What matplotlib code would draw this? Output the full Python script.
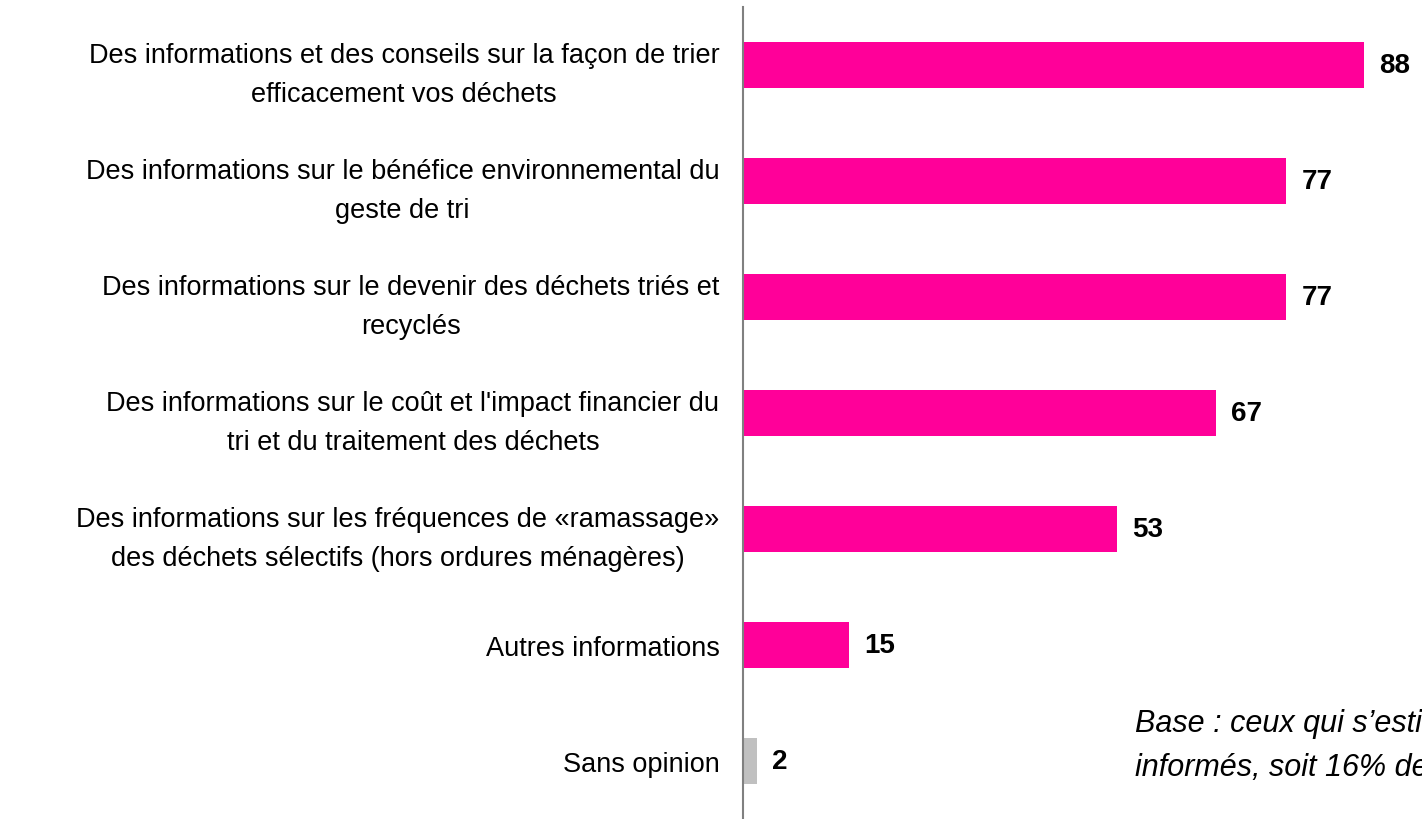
import matplotlib
matplotlib.use("Agg")
import matplotlib.pyplot as plt

plt.rcParams['font.family'] = ['Liberation Sans', 'DejaVu Sans']

# Donnees
categories = [
    "Des informations et des conseils sur la façon de trier\nefficacement vos déchets",
    "Des informations sur le bénéfice environnemental du\ngeste de tri",
    "Des informations sur le devenir des déchets triés et\nrecyclés",
    "Des informations sur le coût et l'impact financier du\ntri et du traitement des déchets",
    "Des informations sur les fréquences de «ramassage»\ndes déchets sélectifs (hors ordures ménagères)",
    "Autres informations",
    "Sans opinion",
]
values = [88, 77, 77, 67, 53, 15, 2]
colors = ["#FF0099"] * 6 + ["#C0C0C0"]
note = "Base : ceux qui s’estiment mal\ninformés, soit 16% de l’échantillon"

fig = plt.figure(figsize=(14.22, 8.2), dpi=100)
ax = fig.add_axes([0.5225, 0.0, 0.4775, 0.99])

pos = list(range(len(values)))
ax.barh(pos, values, height=0.4, color=colors)
ax.set_ylim(len(values) - 0.5, -0.5)
ax.set_xlim(0, 96.2)

for p, v in zip(pos, values):
    ax.annotate(str(v), (v, p), xytext=(11, 0), textcoords="offset points",
                va="center", ha="left", fontsize=20, fontweight="bold")

ax.set_yticks(pos)
ax.set_yticklabels(categories, fontsize=19.5, multialignment="center",
                   linespacing=1.65)
ax.tick_params(axis="y", length=0, pad=17)
ax.set_xticks([])

for s in ["top", "right", "bottom"]:
    ax.spines[s].set_visible(False)
ax.spines["left"].set_color("#808080")
ax.spines["left"].set_linewidth(1.5)

# note coupee au bord droit comme dans l'original
fig.text(1135 / 1422, 1 - 746 / 820, note, fontsize=22, style="italic",
         ha="left", va="center", linespacing=1.6)

fig.savefig("out.png", dpi=100)
